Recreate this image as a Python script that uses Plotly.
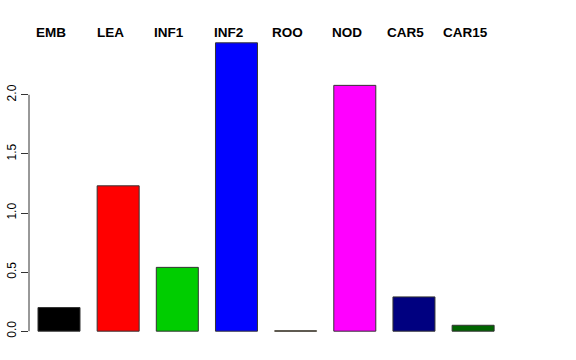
import plotly.graph_objects as go

categories = ["EMB", "LEA", "INF1", "INF2", "ROO", "NOD", "CAR5", "CAR15"]
values = [0.20, 1.23, 0.54, 2.44, 0.003, 2.08, 0.29, 0.05]
colors = ["#000000", "#FF0000", "#00CD00", "#0000FF", "#FFA500", "#FF00FF", "#000080", "#006400"]
ytick_vals = [0.0, 0.5, 1.0, 1.5, 2.0]
ytick_text = ["0.0", "0.5", "1.0", "1.5", "2.0"]

fig = go.Figure()
fig.add_trace(go.Bar(
    x=categories, y=values,
    marker=dict(color=colors, line=dict(color="#333333", width=1)),
    showlegend=False,
))

for c in categories:
    fig.add_annotation(x=c, y=0.995, xref="x", yref="paper", text="<b>%s</b>" % c,
                       showarrow=False, xshift=-8,
                       font=dict(family="Liberation Sans, Arial", size=13.5, color="black"),
                       yanchor="middle")

fig.add_shape(type="line", xref="paper", yref="y", x0=0, x1=0, y0=0, y1=2,
              line=dict(color="#333333", width=1))

fig.update_layout(
    width=576, height=360,
    margin=dict(l=29, r=10, t=31, b=17, autoexpand=False),
    paper_bgcolor="white", plot_bgcolor="white",
    bargap=0.29,
    font=dict(family="Liberation Sans, Arial", color="black"),
    xaxis=dict(type="category", categoryorder="array", categoryarray=categories,
               range=[-0.507, 8.57], showticklabels=False, showgrid=False,
               zeroline=False, showline=False, ticks="", automargin=False),
    yaxis=dict(range=[-0.1, 2.54], tickvals=ytick_vals, ticktext=ytick_text,
               tickangle=-90, ticks="outside", ticklen=7, tickcolor="#333333",
               showgrid=False, zeroline=False, showline=False, automargin=False,
               tickfont=dict(size=12, color="black")),
)

fig.write_html("out.html", config={"displayModeBar": False},
               post_script="document.body.style.margin='0';document.body.style.padding='0';")
